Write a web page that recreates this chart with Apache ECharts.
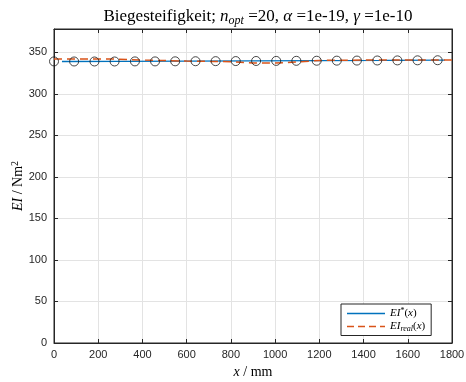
<!DOCTYPE html>
<html>
<head>
<meta charset="utf-8">
<script src="https://cdn.jsdelivr.net/npm/echarts@6/dist/echarts.min.js"></script>
<style>
  html, body { margin: 0; padding: 0; background: #fff; }
  #chart { width: 466px; height: 382px; }
</style>
</head>
<body>
<div id="chart"></div>
<script>
// Node positions (mm) and identified stiffness at the nodes (Nm^2)
const nodeX = [0, 91, 183, 274, 366, 457, 548, 640, 731, 822, 914, 1005, 1096, 1188, 1279, 1370, 1462, 1553, 1644, 1735];
const nodeEI = [339, 338.9, 338.9, 338.9, 339, 339, 339.1, 339.2, 339.3, 339.4, 339.5, 339.6, 339.7, 339.8, 339.9, 340, 340.1, 340.2, 340.3, 340.4];

// Identified stiffness curve EI*(x)
const fitX = [36, 300, 600, 900, 1200, 1500, 1768];
const fitEI = [338.9, 339.1, 339.4, 339.7, 340, 340.3, 340.6];

// Reference stiffness curve EI_real(x)
const realX = [0, 100, 250, 400, 600, 800, 900, 1000, 1100, 1200, 1400, 1600, 1800, 1845];
const realEI = [341.8, 342, 342, 340.6, 339.4, 338.6, 337.2, 337, 338.2, 340.2, 340.6, 340.6, 340.8, 340.8];

// Axis ticks
const xTicks = { min: 0, max: 1800, step: 200 };
const yTicks = { min: 0, max: 378, step: 50 };

const pairs = (xs, ys) => xs.map((x, i) => [x, ys[i]]);

const axisColor = '#262626';
const serif = 'Liberation Serif';
const sans = 'Liberation Sans';

// legend glyphs: a solid stroke and a dashed stroke
const solidIcon = 'path://M0,5L38,5L38,6.4L0,6.4Z';
const dashIcon = 'path://M0,5L7,5L7,6.4L0,6.4ZM11,5L18,5L18,6.4L11,6.4ZM22,5L29,5L29,6.4L22,6.4ZM33,5L38,5L38,6.4L33,6.4Z';

const chart = echarts.init(document.getElementById('chart'), null, { renderer: 'canvas' });

const baseX = {
  type: 'value', min: xTicks.min, max: xTicks.max, interval: xTicks.step,
  axisLine: { show: true, onZero: false, lineStyle: { color: axisColor, width: 1 } },
  axisTick: { show: true, inside: true, length: 4, lineStyle: { color: axisColor } },
};
const baseY = {
  type: 'value', min: yTicks.min, max: yTicks.max, interval: yTicks.step,
  axisLine: { show: true, onZero: false, lineStyle: { color: axisColor, width: 1 } },
  axisTick: { show: true, inside: true, length: 4, lineStyle: { color: axisColor } },
};

chart.setOption({
  animation: false,
  backgroundColor: '#fff',
  title: {
    text: '{t|Biegesteifigkeit; }{i|n}{sub|opt}{t| =20, }{i|α}{t| =1e-19, }{i|γ}{t| =1e-10}',
    left: 253, top: 2, textAlign: 'center',
    textStyle: {
      fontWeight: 'normal',
      rich: {
        t: { fontFamily: serif, fontSize: 17, fontWeight: 'normal', color: '#000' },
        i: { fontFamily: serif, fontSize: 17, fontWeight: 'normal', fontStyle: 'italic', color: '#000' },
        sub: { fontFamily: serif, fontSize: 12, fontWeight: 'normal', fontStyle: 'italic', color: '#000', verticalAlign: 'bottom', padding: [8, 0, 0, 0] }
      }
    }
  },
  grid: { left: 54, right: 14, top: 29, bottom: 39, outerBoundsMode: 'none', containLabel: false,
          show: true, borderColor: axisColor, borderWidth: 1, backgroundColor: 'transparent' },
  legend: {
    orient: 'vertical',
    left: 341, top: 304,
    padding: [3, 6, 3, 6],
    itemGap: 2,
    itemWidth: 38, itemHeight: 12,
    backgroundColor: '#fff',
    borderColor: axisColor, borderWidth: 1, borderRadius: 0,
    data: [{ name: 'EI*', icon: solidIcon }, { name: 'EIreal', icon: dashIcon }],
    formatter: function (name) {
      return name === 'EI*'
        ? '{i|EI}{s|*}{t|(}{i|x}{t|)}'
        : '{i|EI}{b|real}{t|(}{i|x}{t|)}';
    },
    textStyle: {
      rich: {
        i: { fontFamily: serif, fontStyle: 'italic', fontSize: 11, color: '#000' },
        t: { fontFamily: serif, fontSize: 11, color: '#000' },
        s: { fontFamily: serif, fontSize: 8, color: '#000', verticalAlign: 'top', padding: [0, 0, 5, 0] },
        b: { fontFamily: serif, fontStyle: 'italic', fontSize: 8, color: '#000', verticalAlign: 'bottom', padding: [4, 0, 0, 0] }
      }
    }
  },
  xAxis: [
    Object.assign({}, baseX, {
      position: 'bottom',
      name: '{i|x}{t| / mm}', nameLocation: 'middle', nameGap: 22, nameMoveOverlap: false,
      nameTextStyle: { rich: {
        i: { fontFamily: serif, fontStyle: 'italic', fontSize: 14, color: '#000' },
        t: { fontFamily: serif, fontSize: 14, color: '#000' } } },
      axisLabel: { color: axisColor, fontFamily: sans, fontSize: 11, margin: 6, formatter: v => String(v) },
      splitLine: { show: true, lineStyle: { color: '#e3e3e3', width: 1 } }
    }),
    Object.assign({}, baseX, {
      position: 'top',
      axisLabel: { show: false },
      splitLine: { show: false }
    })
  ],
  yAxis: [
    Object.assign({}, baseY, {
      position: 'left',
      name: '{i|EI}{t| / Nm}{s|2}', nameLocation: 'middle', nameGap: 28, nameRotate: 90, nameMoveOverlap: false,
      nameTextStyle: { rich: {
        i: { fontFamily: serif, fontStyle: 'italic', fontSize: 14, color: '#000' },
        t: { fontFamily: serif, fontSize: 14, color: '#000' },
        s: { fontFamily: serif, fontSize: 10, color: '#000', verticalAlign: 'top', padding: [0, 0, 6, 0] } } },
      axisLabel: { color: axisColor, fontFamily: sans, fontSize: 11, margin: 7, showMaxLabel: false, formatter: v => String(v) },
      splitLine: { show: true, lineStyle: { color: '#e3e3e3', width: 1 } }
    }),
    Object.assign({}, baseY, {
      position: 'right',
      axisLabel: { show: false },
      splitLine: { show: false }
    })
  ],
  series: [
    {
      name: 'EI*', type: 'line', data: pairs(fitX, fitEI),
      symbol: 'none', lineStyle: { color: '#0072BD', width: 1.3 },
      itemStyle: { color: '#0072BD' }, z: 3
    },
    {
      name: 'EIreal', type: 'line', data: pairs(realX, realEI),
      symbol: 'none', clip: false,
      lineStyle: { color: '#D95319', width: 1.5, type: [8, 5] },
      itemStyle: { color: '#D95319' }, z: 4
    },
    {
      name: 'Knoten', type: 'scatter', data: pairs(nodeX, nodeEI),
      symbol: 'circle', symbolSize: 9,
      itemStyle: { color: 'rgba(0,0,0,0)', borderColor: '#1a1a1a', borderWidth: 1 }, z: 5
    }
  ]
});
</script>
</body>
</html>
